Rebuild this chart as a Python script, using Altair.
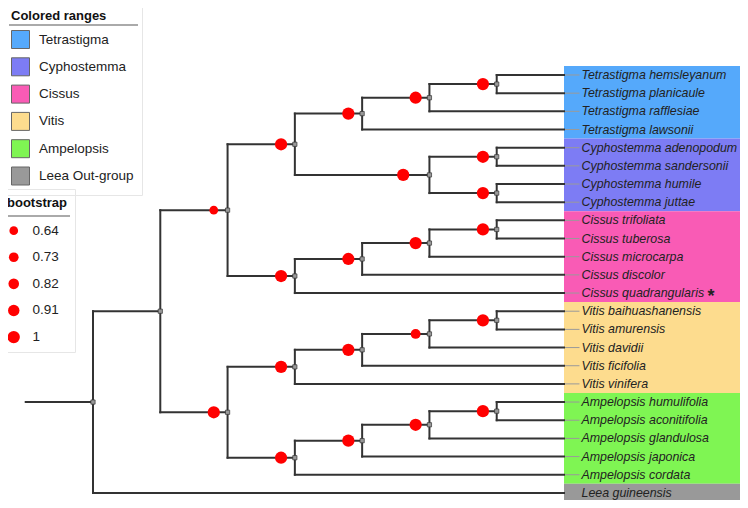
import altair as alt
import pandas as pd

# ---------------- data ----------------
leaves = [
    "Tetrastigma hemsleyanum", "Tetrastigma planicaule", "Tetrastigma rafflesiae", "Tetrastigma lawsonii",
    "Cyphostemma adenopodum", "Cyphostemma sandersonii", "Cyphostemma humile", "Cyphostemma juttae",
    "Cissus trifoliata", "Cissus tuberosa", "Cissus microcarpa", "Cissus discolor", "Cissus quadrangularis",
    "Vitis baihuashanensis", "Vitis amurensis", "Vitis davidii", "Vitis ficifolia", "Vitis vinifera",
    "Ampelopsis humulifolia", "Ampelopsis aconitifolia", "Ampelopsis glandulosa", "Ampelopsis japonica",
    "Ampelopsis cordata", "Leea guineensis",
]
leaf_group = [
    "Tetrastigma", "Tetrastigma", "Tetrastigma", "Tetrastigma",
    "Cyphostemma", "Cyphostemma", "Cyphostemma", "Cyphostemma",
    "Cissus", "Cissus", "Cissus", "Cissus", "Cissus",
    "Vitis", "Vitis", "Vitis", "Vitis", "Vitis",
    "Ampelopsis", "Ampelopsis", "Ampelopsis", "Ampelopsis", "Ampelopsis",
    "Leea Out-group",
]
group_names = ["Tetrastigma", "Cyphostemma", "Cissus", "Vitis", "Ampelopsis", "Leea Out-group"]
group_colors = ["#55a9fb", "#7d7cf4", "#f95bb5", "#fddc8e", "#7ff553", "#999999"]

# internal nodes of the tree (id, children, bootstrap support)
node_ids = ["t1", "t2", "t3", "c1", "c2", "cy", "tc", "s1", "s2", "s3", "ci", "tcc",
            "v1", "v2", "v3", "vi", "a1", "a2", "a3", "am", "va", "ingroup", "root"]
node_children = [
    ["Tetrastigma hemsleyanum", "Tetrastigma planicaule"],
    ["t1", "Tetrastigma rafflesiae"],
    ["t2", "Tetrastigma lawsonii"],
    ["Cyphostemma adenopodum", "Cyphostemma sandersonii"],
    ["Cyphostemma humile", "Cyphostemma juttae"],
    ["c1", "c2"],
    ["t3", "cy"],
    ["Cissus trifoliata", "Cissus tuberosa"],
    ["s1", "Cissus microcarpa"],
    ["s2", "Cissus discolor"],
    ["s3", "Cissus quadrangularis"],
    ["tc", "ci"],
    ["Vitis baihuashanensis", "Vitis amurensis"],
    ["v1", "Vitis davidii"],
    ["v2", "Vitis ficifolia"],
    ["v3", "Vitis vinifera"],
    ["Ampelopsis humulifolia", "Ampelopsis aconitifolia"],
    ["a1", "Ampelopsis glandulosa"],
    ["a2", "Ampelopsis japonica"],
    ["a3", "Ampelopsis cordata"],
    ["vi", "am"],
    ["tcc", "va"],
    ["ingroup", "Leea guineensis"],
]
node_support = [1, 1, 1, 1, 1, 1, 1, 1, 1, 1, 1, 0.64,
                1, 0.75, 1, 1, 1, 1, 1, 1, 1, None, None]
legend_values = [0.64, 0.73, 0.82, 0.91, 1]
marked_leaf = "Cissus quadrangularis"

# ---------------- layout (cladogram, aligned tips) ----------------
TIP = 7.0
ROOT_STEM = 1.0
children = dict(zip(node_ids, node_children))
leaf_index = {n: i for i, n in enumerate(leaves)}


def height(n):
    if n not in children:
        return 0
    return 1 + max(height(c) for c in children[n])


def ypos(n):
    if n not in children:
        return float(leaf_index[n])
    ch = children[n]
    return (ypos(ch[0]) + ypos(ch[-1])) / 2


def xpos(n):
    return TIP - height(n)


segs = []
for nid in node_ids:
    ch = children[nid]
    segs.append(dict(x=xpos(nid), x2=xpos(nid), y=ypos(ch[0]), y2=ypos(ch[-1])))
    for c in ch:
        segs.append(dict(x=xpos(nid), x2=xpos(c), y=ypos(c), y2=ypos(c)))
segs.append(dict(x=xpos("root") - ROOT_STEM, x2=xpos("root"), y=ypos("root"), y2=ypos("root")))
seg_df = pd.DataFrame(segs)

node_df = pd.DataFrame([dict(x=xpos(n), y=ypos(n)) for n in node_ids])

dot_shift = {"cy": 0.39}
dots = []
for nid, s in zip(node_ids, node_support):
    if s is not None:
        dots.append(dict(x=xpos(nid) - dot_shift.get(nid, 0.205), y=ypos(nid), support=s))
dot_df = pd.DataFrame(dots)

leaf_df = pd.DataFrame(dict(name=leaves, group=leaf_group, y=[float(i) for i in range(len(leaves))]))
leaf_df["x"] = TIP
leaf_df["xl"] = TIP + 0.23
leaf_df["xt"] = TIP + 0.26

bands = []
for g in group_names:
    idx = [i for i, gg in enumerate(leaf_group) if gg == g]
    bands.append(dict(group=g, y0=min(idx) - 0.5, y1=max(idx) + 0.5, x0=TIP, x1=9.62))
band_df = pd.DataFrame(bands)

star_df = leaf_df[leaf_df["name"] == marked_leaf]

# ---------------- chart ----------------
FONT = "Liberation Sans"
xs = alt.Scale(domain=[-1.2633, 9.6157], nice=False, zero=False)
ys = alt.Scale(domain=[-3.687, 23.390], nice=False, zero=False, reverse=True)

band_layer = alt.Chart(band_df).mark_rect(opacity=1).encode(
    x=alt.X("x0:Q", scale=xs, axis=None),
    x2="x1:Q",
    y=alt.Y("y0:Q", scale=ys, axis=None),
    y2="y1:Q",
    color=alt.Color(
        "group:N",
        scale=alt.Scale(domain=group_names, range=group_colors),
        legend=alt.Legend(
            title="Colored ranges", orient="none", legendX=-5, legendY=-6,
            direction="vertical", padding=8, strokeColor="#e6e6e6",
            symbolType="square", symbolSize=324, symbolStrokeColor="#666666",
            symbolStrokeWidth=1, symbolOpacity=1,
            labelFont=FONT, labelFontSize=13.5, labelColor="#222222", labelOffset=9,
            rowPadding=4.3, titleFont=FONT, titleFontSize=13, titleFontWeight="bold",
            titleColor="#111111", titlePadding=7,
        ),
    ),
)

leader_layer = alt.Chart(leaf_df).mark_rule(color="#9a9a9a", strokeWidth=1).encode(
    x="x:Q", x2="xl:Q", y="y:Q"
)

branch_layer = alt.Chart(seg_df).mark_rule(color="#333333", strokeWidth=2, strokeCap="square").encode(
    x="x:Q", x2="x2:Q", y="y:Q", y2="y2:Q"
)

node_layer = alt.Chart(node_df).mark_square(
    size=18, color="#999999", stroke="#333333", strokeWidth=0.7, opacity=1
).encode(x="x:Q", y="y:Q")

dot_layer = alt.Chart(dot_df).mark_circle(color="#ff0000", opacity=1).encode(
    x="x:Q",
    y="y:Q",
    size=alt.Size(
        "support:Q",
        scale=alt.Scale(domain=[0.64, 1], range=[75, 150], zero=False),
        legend=alt.Legend(
            title="bootstrap", values=legend_values, format=".2~f",
            orient="none", legendX=-9, legendY=181, direction="vertical",
            padding=8, strokeColor="#e6e6e6",
            symbolType="circle", symbolFillColor="#ff0000", symbolStrokeWidth=0,
            symbolOpacity=1, labelFont=FONT, labelFontSize=13.5, labelColor="#222222",
            labelOffset=12, rowPadding=11.6, titleFont=FONT, titleFontSize=13,
            titleFontWeight="bold", titleColor="#111111", titlePadding=13.9,
        ),
    ),
)

label_layer = alt.Chart(leaf_df).mark_text(
    align="left", baseline="middle", font=FONT, fontSize=12.4,
    fontStyle="italic", color="#222222"
).encode(x="xt:Q", y="y:Q", text="name:N")

star_layer = alt.Chart(star_df).mark_text(
    align="left", baseline="middle", font=FONT, fontSize=18, fontWeight="bold",
    color="#222222", dx=126, dy=3.5
).encode(x="xt:Q", y="y:Q", text=alt.value("*"))

underline = pd.DataFrame({"k": [0]})
ul1 = alt.Chart(underline).mark_rule(color="#aaaaaa", strokeWidth=2).encode(
    x=alt.value(1), x2=alt.value(130), y=alt.value(17)
)
ul2 = alt.Chart(underline).mark_rule(color="#aaaaaa", strokeWidth=2).encode(
    x=alt.value(0), x2=alt.value(62), y=alt.value(208)
)

chart = alt.layer(
    band_layer, leader_layer, branch_layer, node_layer, dot_layer,
    label_layer, star_layer, ul1, ul2
).properties(
    width=732, height=492, padding=0,
    autosize=alt.AutoSizeParams(type="none"),
    background="white",
).configure_view(stroke=None)

chart.save("out.html", embed_options={"renderer": "svg", "actions": False})
